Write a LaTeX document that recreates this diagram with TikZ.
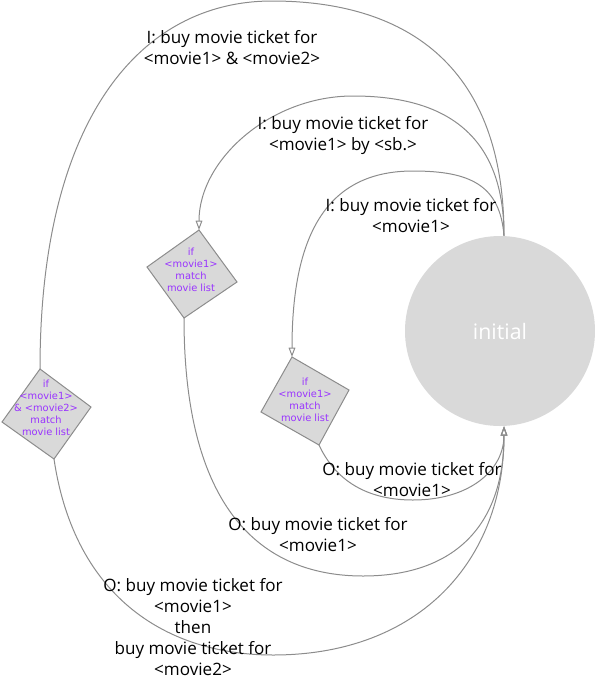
\documentclass[tikz,border=0pt]{standalone}
\usepackage{fontspec}
\setmainfont{Open Sans}
\newfontfamily\dfont{DejaVu Sans}
\usetikzlibrary{arrows.meta}
\definecolor{edgegray}{RGB}{140,140,140}
\definecolor{fillgray}{RGB}{217,217,217}
\definecolor{condpurple}{RGB}{153,51,255}
\begin{document}
\begin{tikzpicture}[x=0.75pt,y=-0.75pt,
  conn/.style={draw=edgegray, line width=0.75pt},
  arr/.style={-{Triangle[open,length=7pt,width=5pt]}},
  lbl/.style={align=center, font=\fontsize{12.8pt}{15.75pt}\selectfont, inner sep=0pt},
  cond/.style={align=center, text=condpurple, font=\dfont\fontsize{7.4pt}{9pt}\selectfont, inner sep=0pt},
  dia/.style={fill=fillgray, draw=edgegray, line width=0.75pt}]
\useasboundingbox (0,0) rectangle (595,679);
% initial state
\node[circle, fill=fillgray, minimum size=142.5pt, inner sep=0pt, text=white,
      font=\fontsize{16pt}{19pt}\selectfont] (c) at (500,331) {initial};
\coordinate (ctop) at ([xshift=3pt]c.north);
\coordinate (cbot) at ([xshift=3pt]c.south);
% diamond 1 (left)
\coordinate (d1t) at (40,369);
\coordinate (d1r) at (91,407);
\coordinate (d1b) at (54,459);
\coordinate (d1l) at (2,422);
\draw[dia] (d1t) -- (d1r) -- (d1b) -- (d1l) -- cycle;
\node[cond] (d1) at (46,408) {if\\<movie1>\\\& <movie2>\\match\\movie list};
% diamond 2 (middle)
\coordinate (d2t) at (199,230);
\coordinate (d2r) at (237,282);
\coordinate (d2b) at (184,318);
\coordinate (d2l) at (147,267);
\draw[dia] (d2t) -- (d2r) -- (d2b) -- (d2l) -- cycle;
\node[cond] (d2) at (191,270) {if\\<movie1>\\match\\movie list};
% diamond 3 (right)
\coordinate (d3t) at (292,357);
\coordinate (d3r) at (349,390);
\coordinate (d3b) at (319,445);
\coordinate (d3l) at (261,412);
\draw[dia] (d3t) -- (d3r) -- (d3b) -- (d3l) -- cycle;
\node[cond] (d3) at (305,400) {if\\<movie1>\\match\\movie list};
% connectors
\draw[conn] (ctop) .. controls (504,60) and (400,1) .. (272,1)
  .. controls (140,1) and (40,120) .. (d1t);
\draw[conn,arr] (ctop) .. controls (504,130) and (440,96) .. (353,96)
  .. controls (270,96) and (199,160) .. (d2t);
\draw[conn,arr] (ctop) .. controls (500,185) and (470,171) .. (413,171)
  .. controls (330,171) and (292,230) .. (d3t);
\draw[conn,arr] (d3b) .. controls (340,490) and (380,500) .. (413,500)
  .. controls (470,500) and (504,470) .. (cbot);
\draw[conn,arr] (d2b) .. controls (184,520) and (270,576) .. (363,576)
  .. controls (450,576) and (504,530) .. (cbot);
\draw[conn,arr] (d1b) .. controls (75,600) and (170,655) .. (273,655)
  .. controls (420,655) and (504,560) .. (cbot);
% labels
\node[lbl] (l1) at (232,48) {I: buy movie ticket for\\<movie1> \& <movie2>};
\node[lbl] (l2) at (343,136) {I: buy movie ticket for\\<movie1> by <sb.>};
\node[lbl] (l3) at (411,216) {I: buy movie ticket for\\<movie1>};
\node[lbl] (l4) at (412,480) {O: buy movie ticket for\\<movie1>};
\node[lbl] (l5) at (318,535) {O: buy movie ticket for\\<movie1>};
\node[lbl] (l6) at (193,627) {O: buy movie ticket for\\<movie1>\\then\\buy movie ticket for\\<movie2>};
\end{tikzpicture}
\end{document}
